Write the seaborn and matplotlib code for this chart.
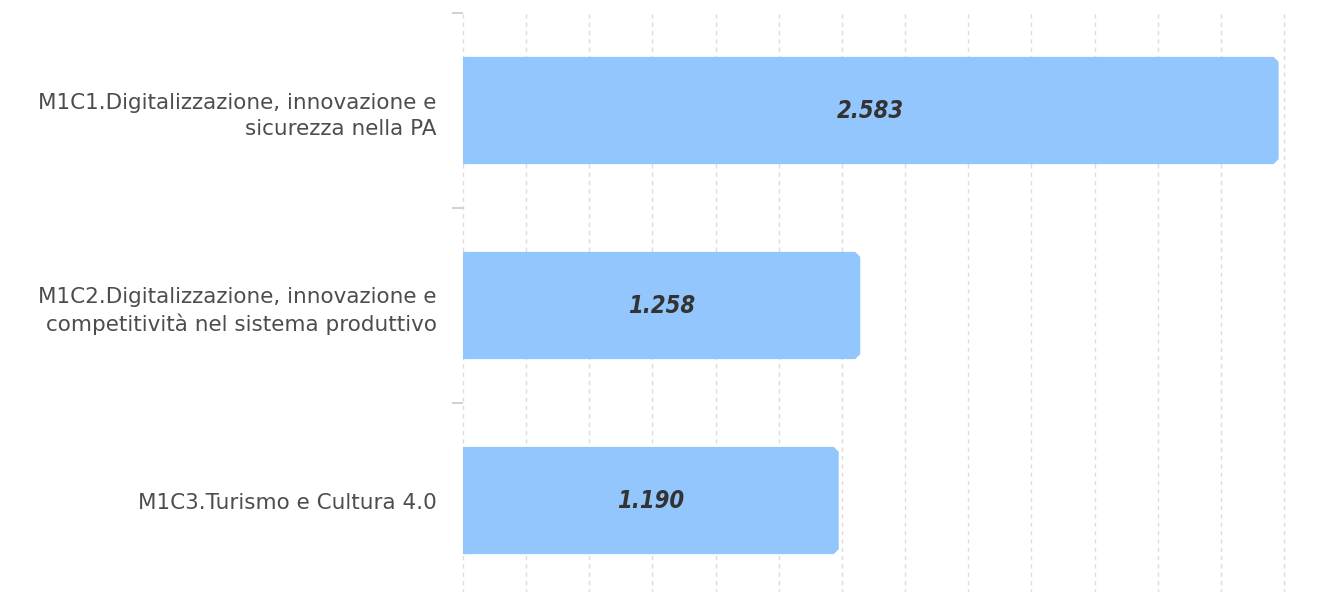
import pandas as pd
import matplotlib.pyplot as plt
import seaborn as sns
from matplotlib.patches import Polygon

# Data
categories = [
    "M1C1.Digitalizzazione, innovazione e\nsicurezza nella PA",
    "M1C2.Digitalizzazione, innovazione e\ncompetitività nel sistema produttivo",
    "M1C3.Turismo e Cultura 4.0",
]
values = [2.583, 1.258, 1.190]
value_labels = ["2.583", "1.258", "1.190"]

df = pd.DataFrame({"Componente": categories, "Valore": values})

sns.set_style("white")
plt.rcParams['font.family'] = ['DejaVu Sans']

fig = plt.figure(figsize=(13.36, 5.92), dpi=100)
ax = fig.add_axes([463 / 1336, -6 / 592, 821 / 1336, 585 / 592])

sns.barplot(data=df, y="Componente", x="Valore", orient="h", color="#94C6FE",
            saturation=1, width=0.55, ax=ax)

ax.set_xlim(0, 2.6)
ax.set_ylim(2.5, -0.5)

# cut the right corners of each bar a little
cx = 5 * 2.6 / 821
cy = 5 * 3.0 / 585
for p in list(ax.patches):
    x0, y0 = p.get_x(), p.get_y()
    w, h = p.get_width(), p.get_height()
    poly = Polygon([(x0, y0), (x0 + w - cx, y0), (x0 + w, y0 + cy),
                    (x0 + w, y0 + h - cy), (x0 + w - cx, y0 + h), (x0, y0 + h)],
                   closed=True, facecolor=p.get_facecolor(), edgecolor="none",
                   zorder=p.get_zorder())
    p.set_visible(False)
    ax.add_patch(poly)

# Value labels inside the bars
for i, (v, lab) in enumerate(zip(values, value_labels)):
    ax.text(v / 2, i, lab, ha="center", va="center", fontsize=17,
            fontweight="bold", fontstyle="italic", fontstretch="condensed",
            color="#333333")

ax.set_xticks([i * 0.2 for i in range(14)])
ax.set_xticklabels([])
ax.tick_params(axis="x", length=0)
ax.grid(axis="x", color="#dcdcdc", linestyle=(0, (3, 3)), linewidth=1)
for gl in ax.get_xgridlines():
    gl.set_clip_on(False)
ax.set_axisbelow(True)

ax.set_yticks([-0.5, 0.5, 1.5], minor=True)
ax.tick_params(axis="y", which="minor", left=True, length=8, color="#c8c8c8", width=1.2)
ax.tick_params(axis="y", which="major", length=0, pad=19, labelsize=15.5,
               labelcolor="#4d4d4d")
for t in ax.get_yticklabels():
    t.set_linespacing(1.4)

ax.set_xlabel("")
ax.set_ylabel("")
for s in ax.spines.values():
    s.set_visible(False)

plt.savefig("out.png", dpi=100)
